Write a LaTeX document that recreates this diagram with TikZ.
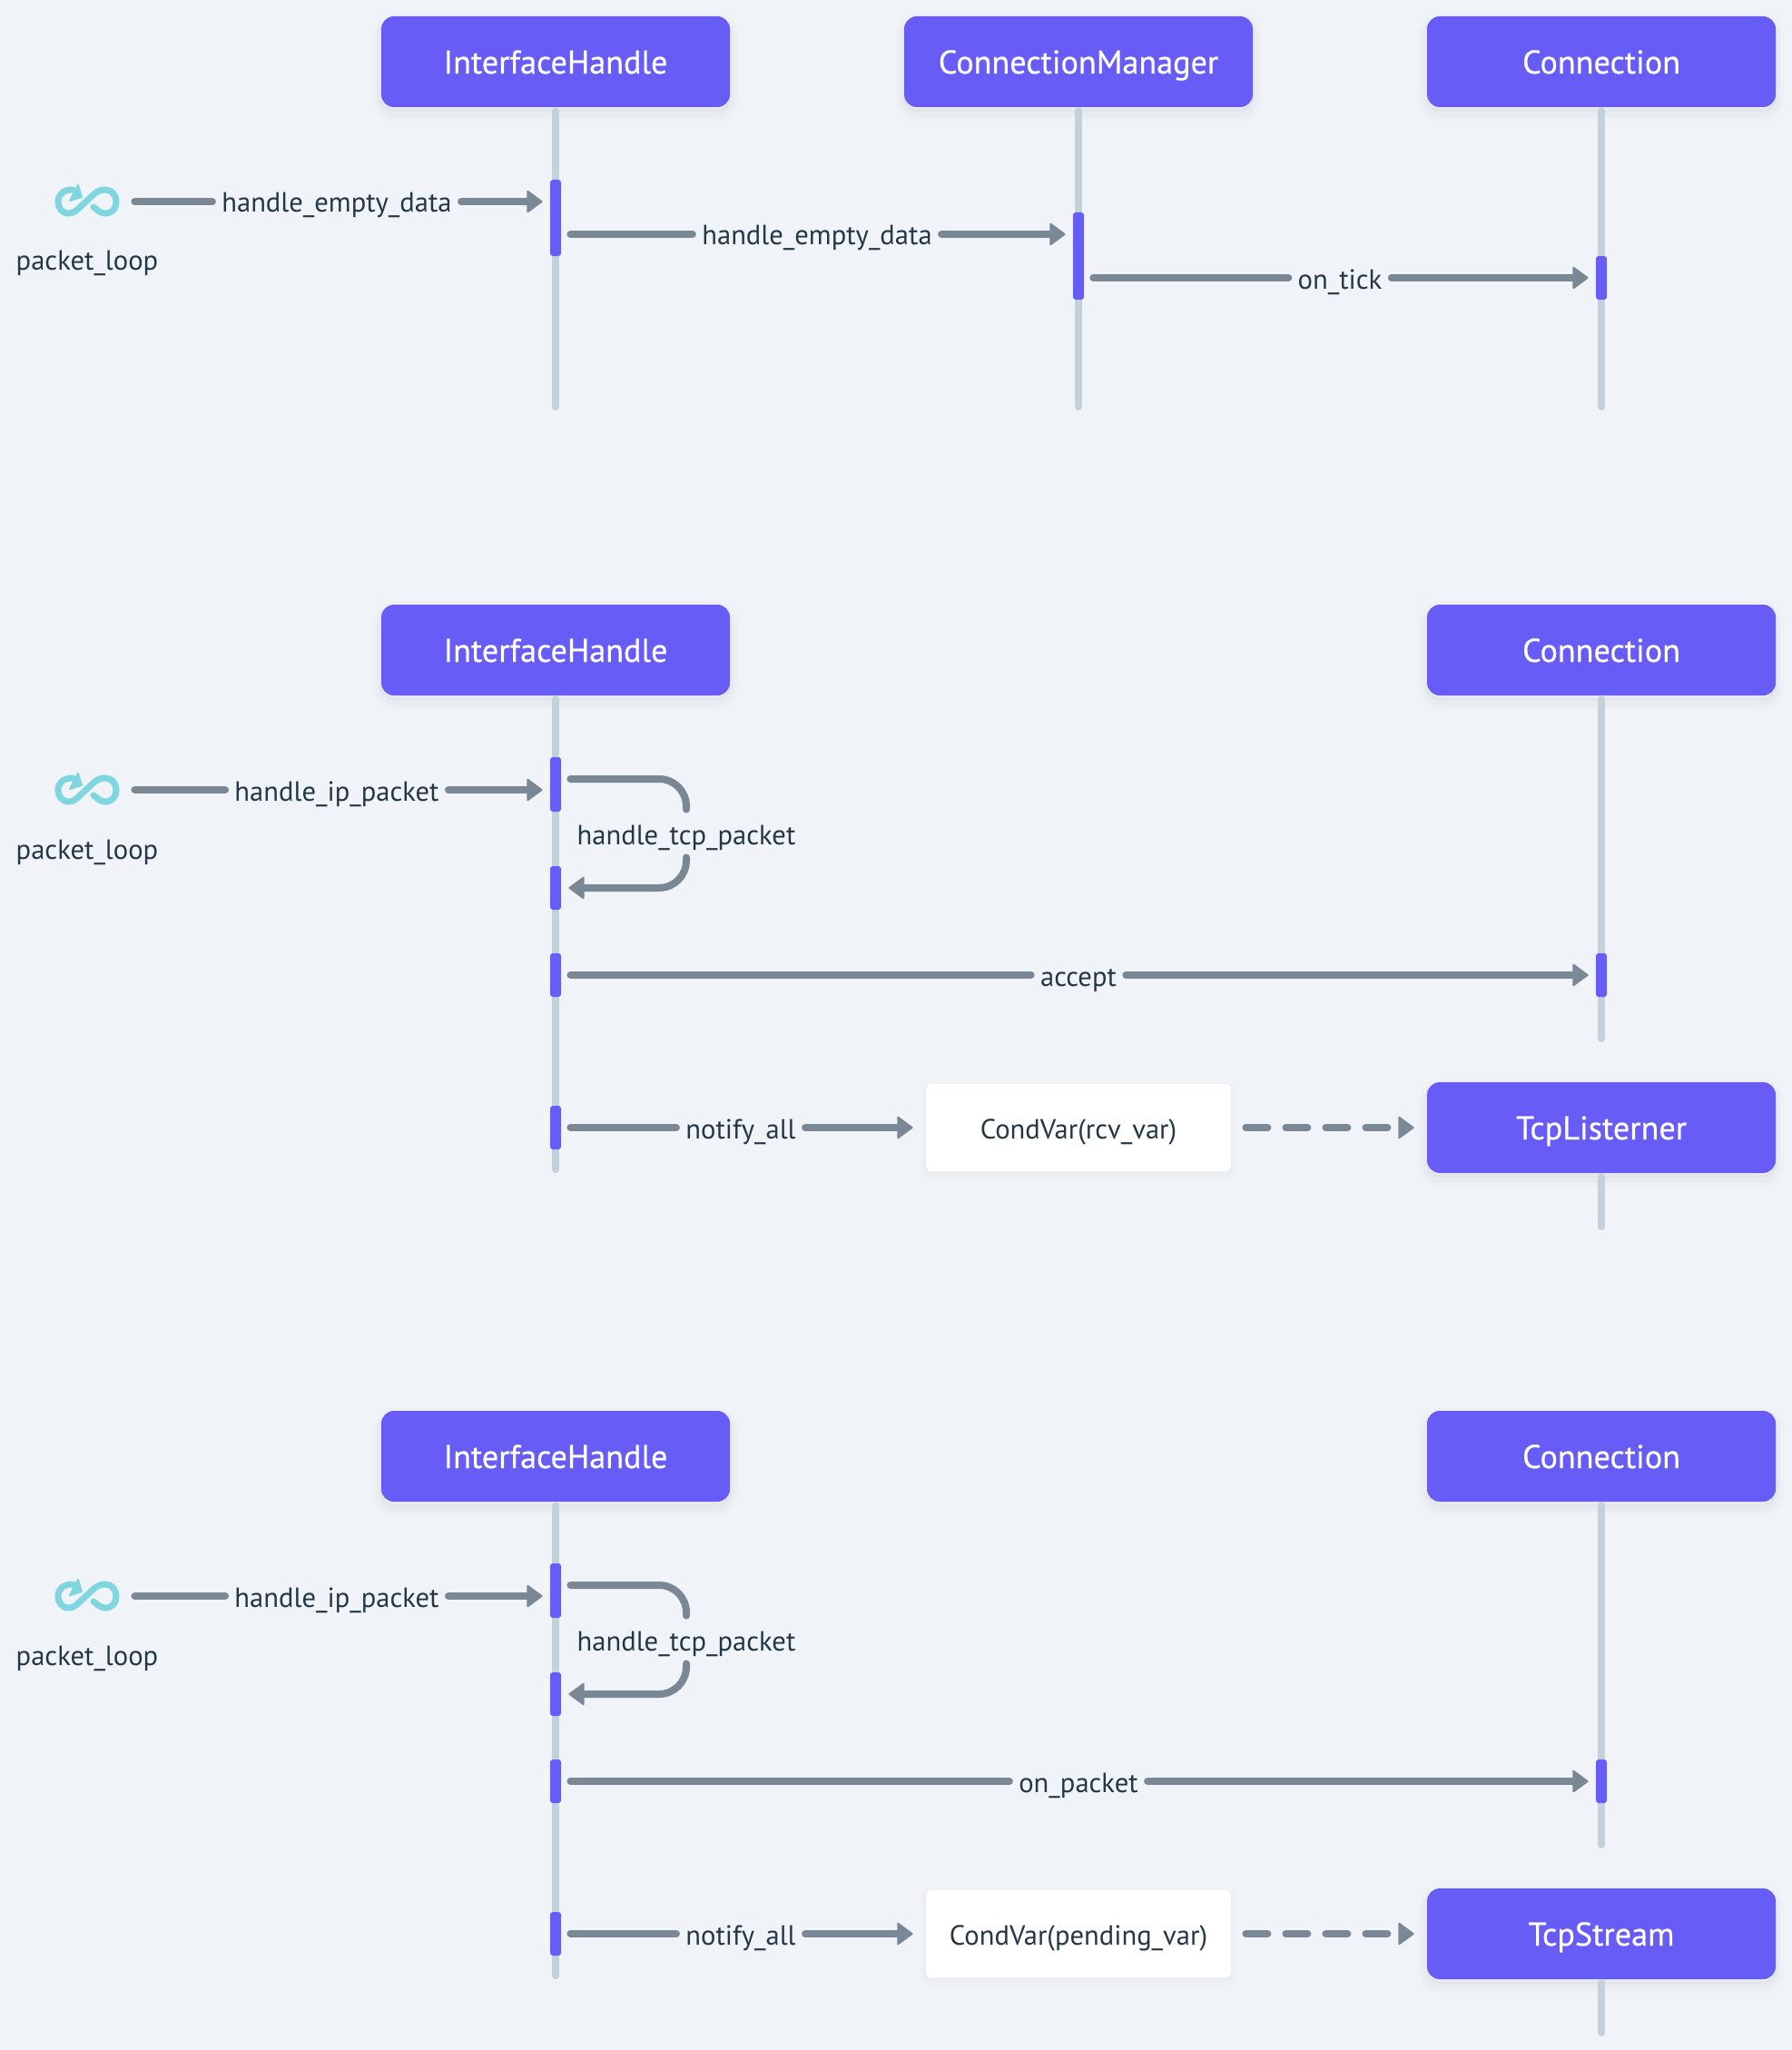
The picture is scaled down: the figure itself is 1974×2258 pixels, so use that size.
\documentclass[tikz,border=0pt]{standalone}
\usepackage{fontspec}
\setmainfont{PT Sans}
\newfontfamily\actorfont[FakeBold=0.5]{PT Sans}
\usepackage{xcolor}
\usetikzlibrary{arrows.meta,positioning,shapes}

\definecolor{pagebg}{HTML}{F0F4F8}
\definecolor{actorviolet}{HTML}{675CF6}
\definecolor{lifegrey}{HTML}{C4D0DB}
\definecolor{msggrey}{HTML}{7A8896}
\definecolor{textdark}{HTML}{243746}
\definecolor{looptealc}{HTML}{7FD6E1}

\tikzset{
	softshadow/.style={
		preaction={draw=black, draw opacity=0.012, line width=9pt, transform canvas={yshift=-3pt}},
		preaction={draw=black, draw opacity=0.018, line width=5pt, transform canvas={yshift=-3pt}},
		preaction={draw=black, draw opacity=0.025, line width=1.5pt, transform canvas={yshift=-2pt}}},
	softshadowlight/.style={
		preaction={draw=black, draw opacity=0.01, line width=6pt, transform canvas={yshift=-2pt}},
		preaction={draw=black, draw opacity=0.01, line width=2pt, transform canvas={yshift=-1pt}}},
	actor/.style={softshadow, fill=actorviolet, text=white, rounded corners=7pt, inner sep=0pt,
		minimum width=192pt, minimum height=50pt, text height=15pt, text depth=2pt,
		font=\actorfont\fontsize{18.1}{20}\selectfont},
	condbox/.style={softshadowlight, fill=white, text=textdark, rounded corners=3pt, inner sep=0pt,
		minimum width=168pt, minimum height=48pt, text height=14pt, text depth=2pt,
		font=\fontsize{15.3}{18}\selectfont},
	msglabel/.style={text=textdark, inner sep=5pt, text height=14pt, text depth=2pt,
		font=\fontsize{15.3}{18}\selectfont},
	plainlabel/.style={msglabel, inner sep=0pt},
	lifeline/.style={draw=lifegrey, line width=4pt, line cap=round, shorten <=2pt},
	activation/.style={fill=actorviolet, rounded corners=1.5pt, inner sep=0pt, minimum width=6pt},
	msgline/.style={draw=msggrey, line width=4pt, line cap=round, shorten <=5pt},
	msgarrow/.style={draw=msggrey, line width=4pt, line cap=round, shorten >=4pt,
		-{Triangle[length=9pt,width=13pt,round,line width=1pt]}},
	loopnode/.style={inner sep=0pt, minimum width=36pt, minimum height=17pt},
	loopicon/.pic={
		\draw[looptealc, line width=3.5pt, line cap=round]
			(7,6) .. controls (12,10) and (15,13) .. (20,13)
			.. controls (28,13) and (32,7) .. (32,0)
			.. controls (32,-7) and (27,-13) .. (20,-13)
			.. controls (12,-13) and (8,-9) .. (2,-3)
			-- (-11,9) .. controls (-16,13) and (-18,13) .. (-20,13)
			.. controls (-28,13) and (-32,7) .. (-32,0)
			.. controls (-32,-8) and (-26,-13) .. (-16,-13);
		\fill[looptealc, draw=looptealc, line width=1pt, line join=round]
			(-10,-18) -- (-6,-5) -- (-19,-1) -- cycle;
	}
}

\begin{document}
\begin{tikzpicture}[x=0.5pt, y=-0.5pt]
	\path[use as bounding box, fill=pagebg] (0,0) rectangle (1974,2258);

	% First sequence
	\node[actor] (ih) at (612,68) {InterfaceHandle};
	\node[actor] (cm) at (1188,68) {ConnectionManager};
	\node[actor] (co) at (1764,68) {Connection};

	\coordinate (ihend) at (612,448);
	\coordinate (cmend) at (1188,448);
	\coordinate (coend) at (1764,448);
	\draw[lifeline] (ih.south) -- (ihend);
	\draw[lifeline] (cm.south) -- (cmend);
	\draw[lifeline] (co.south) -- (coend);

	\node[activation, minimum height=42pt] (iha) at (612,240) {};
	\node[activation, minimum height=48pt] (cma) at (1188,282) {};
	\node[activation, minimum height=24pt] (coa) at (1764,306) {};

	\node[loopnode] (lp) at (96,222) {};
	\pic at (96,222) {loopicon};
	\node[plainlabel] (lptext) at (96,286) {packet\_loop};

	\node[msglabel] (m1) at (371,222) {handle\_empty\_data};
	\node[msglabel] (m2) at (900,258) {handle\_empty\_data};
	\node[msglabel] (m3) at (1476,306) {on\_tick};
	\draw[msgline, shorten <=8pt] (lp.east) -- (m1.west);
	\draw[msgarrow] (m1.east) -- ([yshift=9pt]iha.west);
	\draw[msgline] ([yshift=-9pt]iha.east) -- (m2.west);
	\draw[msgarrow] (m2.east) -- ([yshift=12pt]cma.west);
	\draw[msgline] ([yshift=-12pt]cma.east) -- (m3.west);
	\draw[msgarrow] (m3.east) -- (coa.west);

	% Second and third sequence
	\foreach \s/\off/\msg/\cond/\target in {
		b/0/accept/{CondVar(rcv\_var)}/TcpListerner,
		c/888/on\_packet/{CondVar(pending\_var)}/TcpStream} {
		\begin{scope}[shift={(0,\off)}]
			\node[actor] (ih\s) at (612,716) {InterfaceHandle};
			\node[actor] (co\s) at (1764,716) {Connection};
			\node[actor] (tg\s) at (1764,1242) {\target};

			\coordinate (ihend\s) at (612,1288);
			\coordinate (coend\s) at (1764,1144);
			\coordinate (tgend\s) at (1764,1351);
			\draw[lifeline] (ih\s.south) -- (ihend\s);
			\draw[lifeline] (co\s.south) -- (coend\s);
			\draw[lifeline] (tg\s.south) -- (tgend\s);

			\node[activation, minimum height=30pt] (acta\s) at (612,864) {};
			\node[activation, minimum height=24pt] (actb\s) at (612,978) {};
			\node[activation, minimum height=24pt] (actc\s) at (612,1074) {};
			\node[activation, minimum height=24pt] (actd\s) at (612,1242) {};
			\node[activation, minimum height=24pt] (cor\s) at (1764,1074) {};

			\node[loopnode] (lp\s) at (96,870) {};
			\pic at (96,870) {loopicon};
			\node[plainlabel] (lptext\s) at (96,934) {packet\_loop};

			\node[msglabel] (ip\s) at (371,870) {handle\_ip\_packet};
			\node[msglabel] (tcp\s) at (756,918) {handle\_tcp\_packet};
			\node[msglabel] (msg\s) at (1188,1074) {\msg};
			\node[msglabel] (nt\s) at (816,1242) {notify\_all};
			\node[condbox] (cv\s) at (1188,1242) {\cond};

			\draw[msgline, shorten <=8pt] (lp\s.east) -- (ip\s.west);
			\draw[msgarrow] (ip\s.east) -- ([yshift=-3pt]acta\s.west);
			\draw[msgline, rounded corners=15pt] ([yshift=3pt]acta\s.east) -| (tcp\s.north);
			\draw[msgarrow, rounded corners=15pt] (tcp\s.south) |- (actb\s.east);
			\draw[msgline] (actc\s.east) -- (msg\s.west);
			\draw[msgarrow] (msg\s.east) -- (cor\s.west);
			\draw[msgline] (actd\s.east) -- (nt\s.west);
			\draw[msgarrow, shorten >=7pt] (nt\s.east) -- (cv\s.west);
			\draw[msgarrow, shorten <=8pt, shorten >=7pt, dash pattern=on 12pt off 10pt] (cv\s.east) -- (tg\s.west);
		\end{scope}
	}
\end{tikzpicture}
\end{document}
